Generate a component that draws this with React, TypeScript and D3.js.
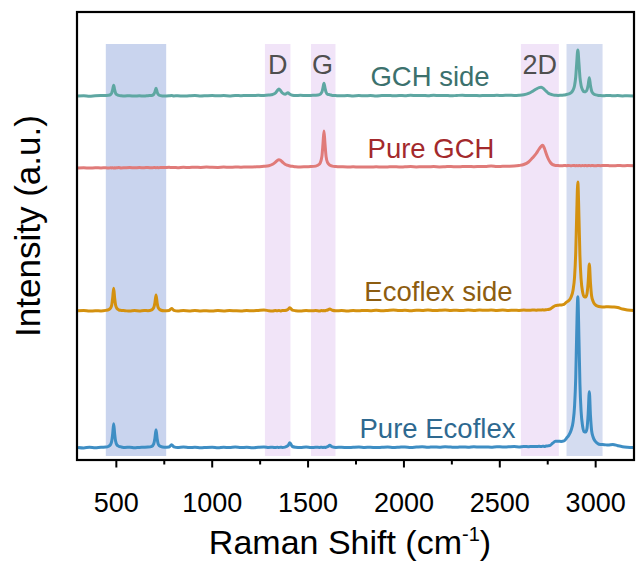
import React from "react";
import * as d3 from "d3";

// Raman shift grid (cm^-1) shared by all spectra
const SHIFT = [
  300, 330, 360, 390, 420, 445, 460, 470, 476, 481,
  486, 491, 496, 503, 512, 525, 545, 570, 595, 620,
  645, 665, 685, 695, 701, 707, 713, 719, 730, 750,
  775, 788, 800, 820, 850, 880, 910, 940, 970, 1000,
  1030, 1060, 1090, 1120, 1150, 1180, 1210, 1240, 1270, 1295,
  1315, 1330, 1340, 1348, 1356, 1366, 1380, 1395, 1405, 1418,
  1435, 1460, 1490, 1515, 1540, 1560, 1572, 1578, 1583, 1588,
  1594, 1602, 1613, 1626, 1645, 1675, 1705, 1735, 1765, 1795,
  1825, 1855, 1885, 1915, 1945, 1975, 2005, 2035, 2065, 2095,
  2125, 2155, 2185, 2215, 2245, 2275, 2305, 2335, 2365, 2395,
  2425, 2455, 2485, 2515, 2545, 2575, 2600, 2625, 2650, 2670,
  2690, 2705, 2715, 2724, 2733, 2742, 2752, 2764, 2776, 2790,
  2805, 2820, 2835, 2848, 2860, 2872, 2882, 2890, 2896, 2901,
  2907, 2913, 2918, 2924, 2932, 2940, 2948, 2955, 2961, 2967,
  2973, 2979, 2987, 2997, 3010, 3025, 3045, 3065, 3090, 3115,
  3140, 3165, 3200,
];

const GCH_SIDE = [
  0.0, 0.3, -0.2, 0.2, 0.4, 0.5, 0.7, 1.5, 3.0, 6.5,
  10.8, 6.4, 2.9, 1.3, 0.6, 0.2, 0.0, 0.3, -0.1, 0.2,
  0.0, 0.3, 0.6, 1.6, 4.0, 7.7, 3.8, 1.5, 0.4, -0.1,
  0.2, 0.5, 0.1, 0.3, -0.1, 0.2, 0.4, 0.0, 0.3, 0.5,
  0.2, 0.4, 0.1, 0.5, 0.3, 0.6, 0.4, 0.7, 0.5, 0.9,
  1.5, 3.0, 5.5, 7.0, 5.4, 3.0, 1.8, 3.2, 1.8, 0.8,
  0.5, 0.7, 0.4, 0.6, 0.8, 1.4, 3.8, 8.4, 12.7, 8.3,
  3.7, 1.6, 1.3, 0.6, 0.4, 0.2, 0.5, 0.1, 0.4, 0.2,
  0.5, 0.1, 0.4, 0.6, 0.2, 0.5, 0.3, 0.7, 0.4, 0.6,
  0.3, 0.7, 0.4, 0.6, 0.2, 0.5, 0.8, 0.4, 0.6, 0.3,
  0.6, 0.4, 0.7, 0.5, 0.8, 0.6, 0.8, 1.3, 2.6, 4.6,
  7.0, 8.4, 8.7, 8.0, 6.5, 4.8, 3.0, 1.8, 1.1, 0.8,
  0.6, 0.8, 0.9, 1.5, 2.1, 3.4, 5.8, 10.5, 19, 32.5,
  46, 32.3, 18.9, 10.6, 6.0, 4.3, 4.3, 6.2, 11, 18.3,
  10.5, 5.0, 2.4, 1.3, 0.8, 0.5, 0.3, 0.6, 0.2, 0.4,
  0.1, 0.3, 0.0,
];

const PURE_GCH = [
  0.0, 0.2, -0.1, 0.3, 0.1, 0.2, 0.0, 0.3, 0.1, 0.2,
  0.0, 0.3, 0.1, 0.2, 0.4, 0.1, 0.3, 0.5, 0.2, 0.4,
  0.3, 0.5, 0.2, 0.4, 0.6, 0.3, 0.5, 0.2, 0.6, 0.4,
  0.7, 0.4, 0.6, 0.3, 0.7, 0.5, 0.8, 0.6, 0.9, 0.7,
  0.6, 0.9, 0.7, 1.0, 0.8, 1.1, 1.0, 1.3, 1.7, 2.3,
  3.7, 5.9, 7.6, 8.3, 7.7, 6.0, 3.8, 2.6, 2.0, 1.7,
  1.3, 1.1, 1.3, 1.4, 1.9, 4.0, 11.4, 24.8, 37, 24.8,
  11.4, 5.3, 2.9, 1.9, 1.5, 1.2, 1.0, 1.2, 0.9, 1.1,
  1.0, 1.2, 0.9, 1.1, 1.3, 1.0, 1.2, 1.4, 1.1, 1.3,
  1.2, 1.4, 1.1, 1.3, 1.5, 1.2, 1.4, 1.6, 1.3, 1.5,
  1.6, 2.0, 1.5, 1.7, 1.8, 2.0, 2.5, 3.5, 6.0, 10.0,
  14.5, 19.0, 21.5, 22.7, 19.5, 14.5, 9.5, 5.5, 3.4, 2.6,
  2.4, 2.2, 2.5, 2.3, 2.6, 2.2, 2.5, 2.4, 2.2, 2.5,
  2.3, 2.6, 2.4, 2.2, 2.5, 2.3, 2.6, 2.2, 2.4, 2.5,
  2.3, 2.6, 2.4, 2.2, 2.5, 2.3, 2.6, 2.4, 2.2, 2.5,
  2.3, 2.4, 2.2,
];

const ECOFLEX_SIDE = [
  0.2, 0.5, -0.1, 0.3, 0.1, 0.6, 1.3, 3.0, 6.1, 13.4,
  22.7, 13.2, 6.0, 2.6, 1.2, 0.6, 0.3, -0.1, 0.4, 0.1,
  0.5, 0.3, 1.2, 3.3, 8.0, 16, 7.8, 3.1, 1.0, 0.2,
  0.6, 2.6, 0.7, 0.0, 0.4, 0.1, 0.5, 0.0, 0.3, -0.1,
  0.4, 0.1, 0.5, 0.2, 0.0, 0.4, 0.2, 0.6, 1.0, 0.3,
  0.1, 0.4, 0.2, 0.5, 0.1, 0.4, 0.5, 1.6, 3.2, 0.9,
  0.3, 0.0, 0.4, 0.2, 0.5, 0.1, 0.4, 0.2, 0.5, 0.3,
  0.6, 1.0, 2.1, 0.7, 0.2, 0.5, 0.0, 0.4, 0.2, 0.6,
  0.3, 0.7, 0.2, 0.5, 0.9, 0.4, 0.7, 0.3, 0.8, 0.5,
  0.9, 0.4, 0.7, 1.0, 0.5, 0.8, 0.4, 0.9, 0.6, 1.0,
  0.7, 1.0, 0.6, 0.9, 0.5, 0.8, 0.6, 0.9, 0.7, 1.0,
  0.8, 1.1, 0.9, 1.2, 1.0, 1.3, 1.5, 2.2, 3.8, 5.4,
  5.8, 6.0, 6.6, 8.9, 10.5, 14.0, 20.8, 34, 58, 95,
  129, 93, 55, 32, 19, 14.4, 14, 17.5, 29, 47,
  28, 15, 9.5, 6.5, 4.8, 4.2, 4.0, 4.3, 4.0, 3.5,
  2.0, 1.0, 0.5,
];

const PURE_ECOFLEX = [
  0.3, -0.2, 0.4, 0.0, 0.5, 0.6, 1.4, 3.2, 6.6, 14.0,
  24, 14.3, 6.6, 2.8, 1.5, 0.8, 0.2, 0.5, -0.1, 0.3,
  0.4, 0.6, 1.4, 3.8, 9.2, 18, 8.6, 3.4, 1.3, 0.4,
  0.8, 3.0, 0.9, 0.2, 0.6, 0.1, 0.4, -0.1, 0.3, 0.5,
  0.0, 0.4, 0.2, 0.6, 0.1, 0.4, 0.0, 0.5, 0.8, 0.3,
  0.4, 0.1, 0.5, 0.2, 0.4, 0.3, 0.6, 2.0, 5.0, 1.2,
  0.5, 0.2, 0.6, 0.1, 0.4, 0.3, 0.5, 0.2, 0.4, 0.3,
  0.5, 1.0, 2.4, 0.8, 0.3, 0.5, 0.1, 0.4, 0.6, 0.2,
  0.5, 0.1, 0.4, 0.7, 0.2, 0.5, 0.8, 0.3, 0.6, 0.9,
  0.4, 0.8, 0.5, 0.9, 0.6, 0.4, 0.8, 0.5, 0.9, 0.6,
  0.8, 0.5, 1.0, 0.7, 0.9, 1.1, 0.8, 1.2, 1.0, 1.3,
  1.1, 1.4, 1.2, 1.5, 1.3, 1.6, 1.8, 2.5, 4.5, 6.5,
  6.5, 6.3, 6.8, 9.5, 12.5, 17.5, 25.5, 41.5, 69.5, 113.5,
  151, 108, 63.7, 36.5, 21.5, 16, 15.6, 19.5, 34, 56,
  32, 17, 10.5, 6.7, 4.3, 3.2, 3.0, 2.6, 3.2, 2.0,
  1.0, 0.5, 0.2,
];

// vertical offsets for stacking (a.u.)
const SERIES_NAMES = ["GCH side", "Pure GCH", "Ecoflex side", "Pure Ecoflex"];
const SERIES_VALUES = [GCH_SIDE, PURE_GCH, ECOFLEX_SIDE, PURE_ECOFLEX];
const SERIES_OFFSETS = [364, 292, 149, 12.3];
const SERIES_COLORS = ["#5ea7a2", "#e07b79", "#d4910f", "#3e8ec4"];
const LABEL_COLORS = ["#3c716d", "#a3292c", "#8d5d10", "#2e6990"];
const LABEL_X = [430, 431, 438.5, 437.5];

// highlighted bands
const BAND_RANGES: [number, number][] = [
  [445, 760],
  [1275, 1408],
  [1515, 1643],
  [2610, 2808],
  [2848, 3036],
];
const BAND_COLORS = ["#c9d4ee", "#f1e4f8", "#f1e4f8", "#f1e4f8", "#d4dcf0"];
const PEAK_LABELS = [
  { text: "D", at: 1342 },
  { text: "G", at: 1575 },
  { text: "2D", at: 2709 },
];

const X_TICKS = [500, 1000, 1500, 2000, 2500, 3000];
const X_MINOR = [750, 1250, 1750, 2250, 2750];

const W = 636;
const H = 567;
const L = 78;
const R = 634;
const T = 12;
const B = 460;
const FONT = "Arial, 'Liberation Sans', Helvetica, sans-serif";

export default function App() {
  const x = d3.scaleLinear().domain([300, 3200]).range([L, R]);
  const y = d3.scaleLinear().domain([0, 448]).range([B, T]);
  const bandTop = y(416);
  const bandBottom = y(4);

  const makeLine = (vals: number[], off: number) =>
    d3
      .line<number>()
      .x((_, i) => x(SHIFT[i]))
      .y((v) => y(v + off))
      .curve(d3.curveMonotoneX)(vals) || "";

  return (
    <svg
      width={W}
      height={H}
      style={{ position: "absolute", left: 0, top: 0, background: "#fff" }}
      fontFamily={FONT}
    >
      <rect x={0} y={0} width={W} height={H} fill="#fff" />
      {BAND_RANGES.map(([a, b], i) => (
        <rect
          key={"band" + i}
          x={x(a)}
          y={bandTop}
          width={x(b) - x(a)}
          height={bandBottom - bandTop}
          fill={BAND_COLORS[i]}
        />
      ))}
      {PEAK_LABELS.map((p) => (
        <text key={p.text} x={x(p.at)} y={74} fontSize={27} fill="#4f4f4f" textAnchor="middle">
          {p.text}
        </text>
      ))}
      {SERIES_VALUES.map((vals, i) => (
        <path
          key={"line" + i}
          d={makeLine(vals, SERIES_OFFSETS[i])}
          fill="none"
          stroke={SERIES_COLORS[i]}
          strokeWidth={3}
          strokeLinejoin="round"
        />
      ))}
      {SERIES_NAMES.map((n, i) => (
        <text
          key={"lab" + i}
          x={LABEL_X[i]}
          y={y(SERIES_OFFSETS[i]) - 10}
          fontSize={27.5}
          fill={LABEL_COLORS[i]}
          textAnchor="middle"
        >
          {n}
        </text>
      ))}
      {/* frame */}
      <rect
        x={L - 1}
        y={T}
        width={R - L + 1}
        height={B - T}
        fill="none"
        stroke="#000"
        strokeWidth={2.2}
      />
      {X_TICKS.map((t) => (
        <g key={"t" + t}>
          <line x1={x(t)} x2={x(t)} y1={B} y2={B + 7.5} stroke="#000" strokeWidth={2} />
          <text x={x(t)} y={512} fontSize={27} textAnchor="middle" fill="#000">
            {t}
          </text>
        </g>
      ))}
      {X_MINOR.map((t) => (
        <line key={"m" + t} x1={x(t)} x2={x(t)} y1={B} y2={B + 4.5} stroke="#000" strokeWidth={2} />
      ))}
      <text x={350} y={554} fontSize={34} textAnchor="middle" fill="#000">
        Raman Shift (cm
        <tspan fontSize={20} dy={-13}>
          -1
        </tspan>
        <tspan fontSize={34} dy={13}>
          )
        </tspan>
      </text>
      <text
        transform="translate(40,226) rotate(-90)"
        fontSize={35}
        textAnchor="middle"
        fill="#000"
      >
        Intensity (a.u.)
      </text>
    </svg>
  );
}
